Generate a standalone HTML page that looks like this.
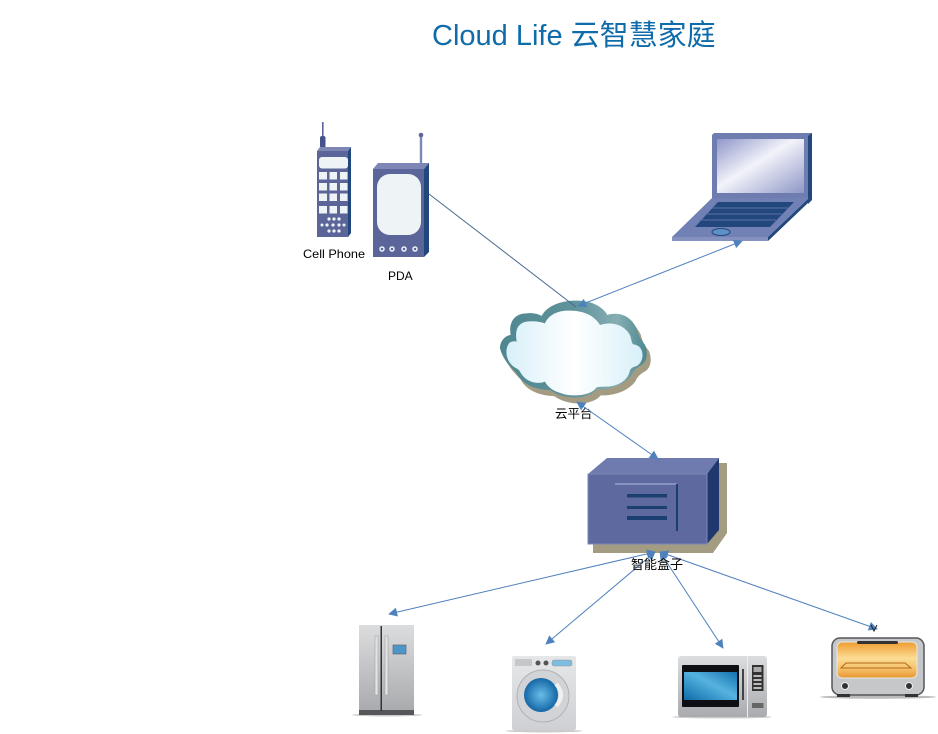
<!DOCTYPE html>
<html><head><meta charset="utf-8">
<style>
html,body{margin:0;padding:0;background:#fff;width:938px;height:734px;overflow:hidden}
svg{display:block}
text{font-family:"Liberation Sans","Noto Sans CJK SC",sans-serif}
</style></head><body>
<svg width="938" height="734" viewBox="0 0 938 734" xmlns="http://www.w3.org/2000/svg">
<defs>
<linearGradient id="scr" x1="0" y1="0" x2="1" y2="1"><stop offset="0" stop-color="#8f97c8"/><stop offset=".45" stop-color="#f2f3fa"/><stop offset="1" stop-color="#8f97c6"/></linearGradient>
<linearGradient id="cl" x1="0" y1="0" x2="1" y2="0"><stop offset="0" stop-color="#d8f0f9"/><stop offset=".5" stop-color="#ffffff"/><stop offset="1" stop-color="#d8f0f9"/></linearGradient>
<linearGradient id="cl2" x1="0" y1="0" x2="1" y2="0"><stop offset="0" stop-color="#4f8690"/><stop offset=".5" stop-color="#5f939b"/><stop offset=".8" stop-color="#86aeb2"/><stop offset="1" stop-color="#4c8791"/></linearGradient>
<linearGradient id="steel" x1="0" y1="0" x2="0" y2="1"><stop offset="0" stop-color="#dcdddf"/><stop offset="1" stop-color="#a9abae"/></linearGradient>
<linearGradient id="blue" x1="0" y1="1" x2="1" y2="0"><stop offset="0" stop-color="#0f6ba8"/><stop offset=".55" stop-color="#56b3e0"/><stop offset="1" stop-color="#1570ad"/></linearGradient>
<linearGradient id="oven" x1="0" y1="0" x2="0" y2="1"><stop offset="0" stop-color="#ee9c2e"/><stop offset=".45" stop-color="#fcdc94"/><stop offset=".75" stop-color="#f6c068"/><stop offset="1" stop-color="#e69530"/></linearGradient>
<linearGradient id="base" x1="0" y1="0" x2="0" y2="1"><stop offset="0" stop-color="#e6e7e9"/><stop offset="1" stop-color="#cfd0d3"/></linearGradient>
<radialGradient id="drum" cx=".5" cy=".5" r=".55"><stop offset="0" stop-color="#67bde8"/><stop offset="1" stop-color="#0d5e9f"/></radialGradient>
<marker id="a" viewBox="0 0 10 10" refX="9" refY="5" markerWidth="10" markerHeight="9" orient="auto-start-reverse" markerUnits="userSpaceOnUse"><path d="M0 0L10 5L0 10Z" fill="#4f81bd"/></marker>
</defs>

<text x="432" y="45" font-size="29" fill="#0f6cab">Cloud Life 云智慧家庭</text>

<!-- Cell phone -->
<rect x="322" y="122" width="1.6" height="20" fill="#5a659b"/>
<rect x="320" y="136" width="5.500" height="12" rx="2" fill="#46528d"/>
<path d="M317 151L320 147H351L348 151Z" fill="#7d86b4"/>
<path d="M348 151L351 147V233L348 237Z" fill="#21477c"/>
<rect x="317" y="151" width="31" height="86" fill="#5b6599"/>
<rect x="319" y="157" width="29" height="11.500" rx="3" fill="#eef3f6"/>
<g fill="#eef3f6">
<rect x="319" y="172" width="8" height="7.500"/><rect x="329.500" y="172" width="7.500" height="7.500"/><rect x="340" y="172" width="7.500" height="7.500"/>
<rect x="319" y="183" width="8" height="7.500"/><rect x="329.500" y="183" width="7.500" height="7.500"/><rect x="340" y="183" width="7.500" height="7.500"/>
<rect x="319" y="193.500" width="8" height="7.500"/><rect x="329.500" y="193.500" width="7.500" height="7.500"/><rect x="340" y="193.500" width="7.500" height="7.500"/>
<rect x="319" y="206" width="8" height="7.500"/><rect x="329.500" y="206" width="7.500" height="7.500"/><rect x="340" y="206" width="7.500" height="7.500"/>
<circle cx="329" cy="219" r="1.600"/><circle cx="334" cy="219" r="1.600"/><circle cx="339" cy="219" r="1.600"/>
<circle cx="322" cy="225" r="1.500"/><circle cx="327" cy="225" r="1.600"/><circle cx="333" cy="225" r="1.600"/><circle cx="339" cy="225" r="1.600"/><circle cx="344" cy="225" r="1.500"/>
<circle cx="329" cy="231" r="1.600"/><circle cx="334" cy="231" r="1.600"/><circle cx="339" cy="231" r="1.600"/>
</g>
<text x="303" y="258" font-size="12" fill="#000" textLength="62" lengthAdjust="spacingAndGlyphs">Cell Phone</text>

<!-- PDA -->
<rect x="419.800" y="135" width="2.400" height="29" fill="#7d86b4"/>
<circle cx="421" cy="135" r="2.300" fill="#5b6599"/>
<path d="M373 169L378 163H429L424 169Z" fill="#7d86b4"/>
<path d="M424 169L429 163V252L424 257Z" fill="#21477c"/>
<rect x="373" y="169" width="51" height="88" fill="#5b6599"/>
<rect x="377" y="174" width="44" height="61" rx="13" fill="#eef3f6"/>
<g fill="none" stroke="#eef3f6" stroke-width="1.500">
<circle cx="382" cy="249" r="2"/><circle cx="392" cy="249" r="2"/><circle cx="404" cy="249" r="2"/><circle cx="415" cy="249" r="2"/>
</g>
<text x="388" y="280" font-size="12" fill="#000">PDA</text>

<!-- Laptop -->
<path d="M712 198V135L714 133H812V198Z" fill="#6f7cb0"/>
<path d="M808 136L812 133V200L808 204Z" fill="#21477c"/>
<rect x="717" y="139" width="87" height="54" fill="url(#scr)"/>
<path d="M712 198H809L768 237H672Z" fill="#7180b5"/>
<path d="M768 237L809 198V202L768 241Z" fill="#21477c"/>
<rect x="672" y="237" width="96" height="4" fill="#8592c0"/>
<path d="M718 202H794L770 227H695Z" fill="#21477c"/>
<path d="M712 208H788M705 214H782M699 220H776" stroke="#5b70a5" stroke-width="1"/>
<ellipse cx="721" cy="232" rx="9" ry="3.500" fill="#5f90c4" stroke="#21477c" stroke-width="1"/>

<!-- Cloud -->
<g transform="translate(490,290) scale(.3333)">
<path transform="translate(12,18)" d="M62 135C55 95 75 70 110 70C130 68 145 72 155 78C175 40 235 25 290 35C320 40 345 60 352 75C385 65 420 75 440 115C445 135 450 145 465 165C475 190 470 215 455 225C445 230 430 240 425 255C400 290 350 300 320 298C300 325 230 335 180 300C150 300 100 290 80 250C60 230 40 210 30 175C30 150 50 135 62 135Z" fill="#a49c82"/>
<path d="M62 135C55 95 75 70 110 70C130 68 145 72 155 78C175 40 235 25 290 35C320 40 345 60 352 75C385 65 420 75 440 115C445 135 450 145 465 165C475 190 470 215 455 225C445 230 430 240 425 255C400 290 350 300 320 298C300 325 230 335 180 300C150 300 100 290 80 250C60 230 40 210 30 175C30 150 50 135 62 135Z" fill="url(#cl2)"/>
<path d="M80 155C75 125 80 100 110 95C130 92 150 95 165 100C175 75 205 60 240 62C285 62 315 80 330 105C360 95 400 100 420 135C425 150 425 160 430 163C455 165 462 190 455 210C445 235 430 225 420 240C415 270 390 285 355 290C345 290 330 290 320 292C300 320 240 320 215 310C195 305 175 295 165 275C140 285 105 275 90 245C85 235 75 235 65 225C45 205 45 170 60 157C68 153 75 153 80 155Z" fill="url(#cl)"/>
</g>
<text x="555" y="418" font-size="12.500" fill="#000">云平台</text>

<!-- Box -->
<path d="M593 553V544H700L719 520V463H727V533L713 553Z" fill="#a49c82"/>
<path d="M588 474L607 458H719L707 474Z" fill="#6f7aae"/>
<path d="M707 474L719 458V530L707 544Z" fill="#21386f"/>
<rect x="588" y="474" width="119" height="70" fill="#5d699f" stroke="#7c87b8" stroke-width="1"/>
<rect x="615" y="483" width="62" height="2" fill="#8791bf"/>
<rect x="676" y="484" width="2" height="47" fill="#1c3f72"/>
<rect x="627" y="494" width="40" height="3.500" fill="#1c3f72"/>
<rect x="627" y="506" width="40" height="3" fill="#1c3f72"/>
<rect x="627" y="516" width="40" height="4" fill="#1c3f72"/>

<!-- Connectors -->
<g fill="none" stroke-width="1">
<line x1="429" y1="194" x2="576" y2="307" stroke="#47698f"/>
<line x1="578" y1="306" x2="742" y2="241" stroke="#4f81bd" marker-start="url(#a)" marker-end="url(#a)"/>
<line x1="577" y1="402" x2="658" y2="459" stroke="#4f81bd" marker-start="url(#a)" marker-end="url(#a)"/>
<line x1="655" y1="552" x2="389" y2="614" stroke="#4f81bd" marker-start="url(#a)" marker-end="url(#a)"/>
<line x1="655" y1="552" x2="546" y2="644" stroke="#4f81bd" marker-start="url(#a)" marker-end="url(#a)"/>
<line x1="660" y1="552" x2="723" y2="648" stroke="#4f81bd" marker-start="url(#a)" marker-end="url(#a)"/>
<line x1="660" y1="552" x2="877" y2="629" stroke="#4f81bd" marker-start="url(#a)" marker-end="url(#a)"/>
</g>
<path d="M871 625L874 631L877 625" fill="none" stroke="#222" stroke-width="1"/>
<text x="631" y="569" font-size="13" fill="#000">智能盒子</text>

<!-- Fridge -->
<ellipse cx="387" cy="715" rx="35" ry="1.500" fill="#ccc"/>
<rect x="359" y="625" width="55" height="85" fill="url(#steel)"/>
<rect x="359" y="710" width="55" height="5" fill="#55575a"/>
<rect x="380.500" y="626" width="1.500" height="85" fill="#333"/>
<rect x="375" y="636" width="3" height="59" fill="#e2e3e5" stroke="#999" stroke-width=".5"/>
<rect x="385" y="636" width="3" height="59" fill="#e2e3e5" stroke="#999" stroke-width=".5"/>
<rect x="393" y="645" width="13" height="9" fill="#4d96c8" stroke="#667" stroke-width=".7"/>

<!-- Washer -->
<ellipse cx="544" cy="731" rx="38" ry="1.500" fill="#ccc"/>
<rect x="512" y="656" width="64" height="74" rx="2" fill="url(#base)"/>
<rect x="515" y="659" width="17" height="7" fill="#c6c7c9"/>
<circle cx="538" cy="663" r="2.500" fill="#555"/><circle cx="546" cy="663" r="2.500" fill="#555"/>
<rect x="552" y="660" width="20" height="6" rx="2" fill="#7dbde0" stroke="#999" stroke-width=".5"/>
<circle cx="543" cy="696" r="26" fill="#d2d3d6" stroke="#b0b1b4" stroke-width="1"/>
<circle cx="541" cy="695" r="17" fill="url(#drum)"/>
<path d="M556 684Q566 695 556 706" fill="none" stroke="#f0f0f0" stroke-width="4"/>

<!-- Microwave -->
<ellipse cx="722" cy="717" rx="50" ry="1.500" fill="#ccc"/>
<rect x="678" y="656" width="89" height="61" rx="3" fill="url(#steel)"/>
<rect x="682" y="665" width="57" height="42" rx="1" fill="#0d0f14"/>
<rect x="684" y="672" width="53" height="28" fill="url(#blue)"/>
<rect x="742" y="669" width="2" height="31" fill="#444"/>
<rect x="747" y="656" width="1" height="61" fill="#eee"/>
<rect x="752" y="665" width="11.500" height="26" fill="#333"/>
<rect x="753.500" y="667" width="8" height="5" fill="#aaa"/>
<g fill="#bbb"><rect x="753.500" y="675" width="8" height="2"/><rect x="753.500" y="679" width="8" height="2"/><rect x="753.500" y="683" width="8" height="2"/><rect x="753.500" y="687" width="8" height="2"/></g>
<rect x="752" y="703" width="11.500" height="5" fill="#666"/>

<!-- Toaster oven -->
<ellipse cx="878" cy="697" rx="58" ry="1.800" fill="#bbb"/>
<rect x="832" y="638" width="92" height="57" rx="8" fill="#c6c7c9" stroke="#55575a" stroke-width="1.500"/>
<rect x="837" y="642" width="80" height="36" rx="5" fill="url(#oven)" stroke="#e8e8e8" stroke-width="1"/>
<rect x="857" y="641" width="41" height="3" rx="1.500" fill="#333"/>
<path d="M841 668L846 663H905L911 668Z" fill="none" stroke="#b06a1a" stroke-width="1"/>
<circle cx="845" cy="686" r="3.500" fill="#333" stroke="#eee"/>
<circle cx="909" cy="686" r="3.500" fill="#333" stroke="#eee"/>
<rect x="837" y="694" width="13" height="3" fill="#333"/><rect x="905" y="694" width="13" height="3" fill="#333"/>
</svg>
</body></html>
